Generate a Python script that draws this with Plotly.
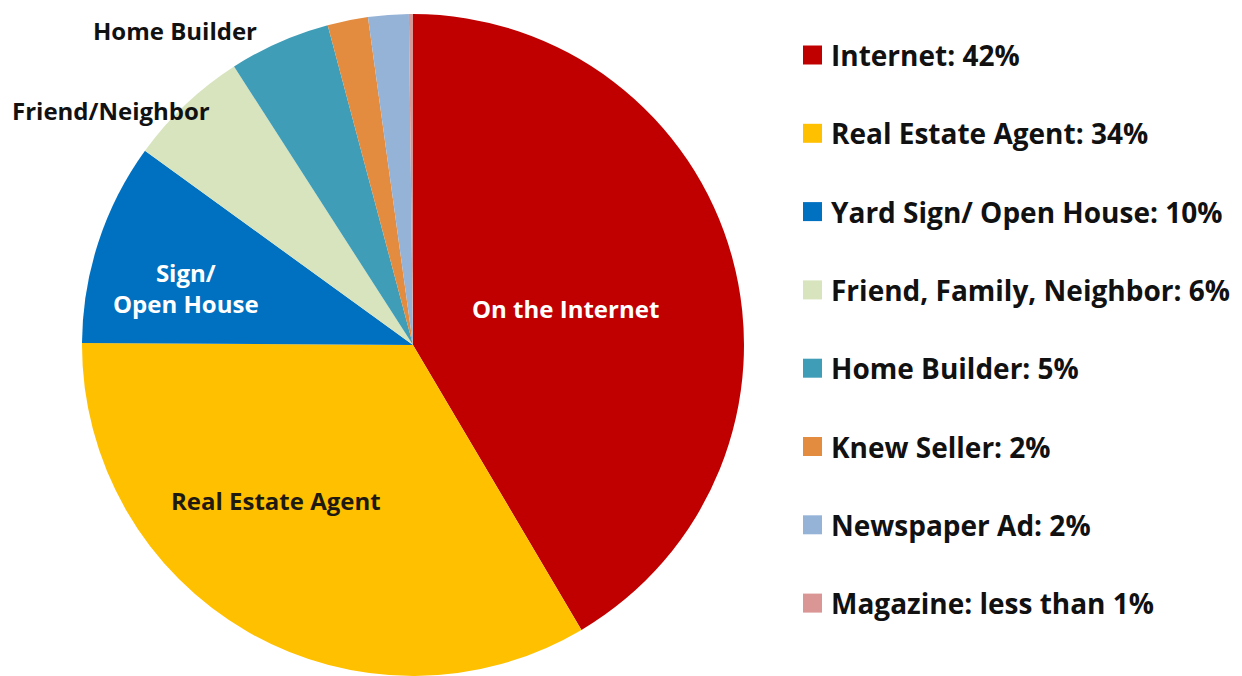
import plotly.graph_objects as go

# Where buyers first found the home they purchased
slice_names = ["Internet", "Real Estate Agent", "Yard Sign/ Open House",
               "Friend, Family, Neighbor", "Home Builder", "Knew Seller",
               "Newspaper Ad", "Magazine"]
shares = [42, 34, 10, 6, 5, 2, 2, 0.2]
legend_texts = ["Internet: 42%", "Real Estate Agent: 34%", "Yard Sign/ Open House: 10%",
                "Friend, Family, Neighbor: 6%", "Home Builder: 5%", "Knew Seller: 2%",
                "Newspaper Ad: 2%", "Magazine: less than 1%"]
slice_colors = ["#C00000", "#FFC000", "#0070C0", "#D7E4BD", "#3F9DB7",
                "#E38B3E", "#95B3D7", "#D99694"]

# Callout labels drawn on / beside the pie: (text, x px, y px, colour)
callouts = [
    ("On the Internet", 565, 308, "white"),
    ("Real Estate Agent", 276, 500, "#1f1a10"),
    ("Sign/<br>Open House", 186, 288, "white"),
    ("Friend/Neighbor", 111, 110, "#111111"),
    ("Home Builder", 175, 30, "#111111"),
]

W, H = 1242, 676
FONT = "Open Sans"


def px(x):
    return x / W


def py(y):
    return 1 - y / H


cx, cy, r = 413, 345, 331

fig = go.Figure(go.Pie(
    labels=slice_names,
    values=shares,
    marker=dict(colors=slice_colors, line=dict(width=0)),
    sort=False,
    direction="clockwise",
    rotation=0,
    textinfo="none",
    hoverinfo="label+percent",
    showlegend=False,
    domain=dict(x=[px(cx - r), px(cx + r)], y=[py(cy + r), py(cy - r)]),
))

annotations = []
for text, x, y, color in callouts:
    annotations.append(dict(
        text=f"<b>{text}</b>", x=px(x), y=py(y), xref="paper", yref="paper",
        showarrow=False, xanchor="center", yanchor="middle",
        font=dict(family=FONT, size=24, color=color),
    ))

# Legend column on the right
shapes = []
leg_x, leg_y0, leg_step, sq = 812.5, 55, 78.3, 19
for i, (label, color) in enumerate(zip(legend_texts, slice_colors)):
    yc = leg_y0 + i * leg_step
    shapes.append(dict(
        type="rect", xref="paper", yref="paper",
        x0=px(leg_x - sq / 2), x1=px(leg_x + sq / 2),
        y0=py(yc + sq / 2), y1=py(yc - sq / 2),
        fillcolor=color, line=dict(width=0),
    ))
    annotations.append(dict(
        text=f"<b>{label}</b>", x=px(829), y=py(yc), xref="paper", yref="paper",
        showarrow=False, xanchor="left", yanchor="middle",
        font=dict(family=FONT, size=28, color="#111111"),
    ))

fig.update_layout(
    width=W, height=H,
    margin=dict(l=0, r=0, t=0, b=0),
    paper_bgcolor="white", plot_bgcolor="white",
    annotations=annotations, shapes=shapes,
)

fig.write_html("out.html")
